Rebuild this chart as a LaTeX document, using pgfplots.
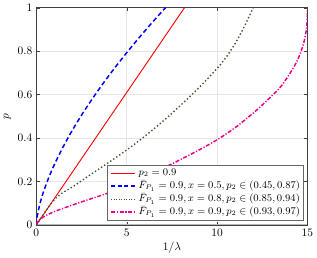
\documentclass[border=0pt]{standalone}
\usepackage{pgfplots}
\pgfplotsset{compat=1.18}
\definecolor{olivedot}{RGB}{60,85,45}
\newcommand\sRed{\textcolor{red}{\rule[0.5ex]{21pt}{0.8pt}}}
\newcommand\sBlue{\textcolor{blue}{\rule[0.45ex]{3.6pt}{1.3pt}\hspace{2.2pt}\rule[0.45ex]{3.6pt}{1.3pt}\hspace{2.2pt}\rule[0.45ex]{3.6pt}{1.3pt}\hspace{2.2pt}\rule[0.45ex]{3.6pt}{1.3pt}}}
\newcommand\dotO{\rule[0.45ex]{1.1pt}{1.1pt}\hspace{1.1pt}}
\newcommand\sOlive{\textcolor{olivedot}{\dotO\dotO\dotO\dotO\dotO\dotO\dotO\dotO\dotO\rule[0.45ex]{1.1pt}{1.1pt}}}
\newcommand\dashdotM{\rule[0.45ex]{3.5pt}{1.3pt}\hspace{1.5pt}\rule[0.45ex]{1pt}{1.3pt}\hspace{1.5pt}}
\newcommand\sMag{\textcolor{magenta}{\dashdotM\dashdotM\rule[0.45ex]{3.5pt}{1.3pt}\hspace{1.5pt}\rule[0.45ex]{1pt}{1.3pt}}}
\begin{document}
\begin{tikzpicture}
\begin{axis}[
  scale only axis,
  width=237pt, height=190pt,
  xmin=0, xmax=15, ymin=0, ymax=1,
  xtick={0,5,10,15}, ytick={0,0.2,0.4,0.6,0.8,1},
  yticklabels={0,0.2,0.4,0.6,0.8,1},
  grid=major,
  major grid style={gray!20, line width=0.4pt},
  axis line style={black!75, line width=0.5pt},
  tick style={black!75},
  major tick length=3pt,
  xlabel={$1/\lambda$}, ylabel={$p$},
  xlabel style={yshift=2pt},
  ylabel style={yshift=-1pt},
  legend cell align=left,
  legend style={at={(0.986,0.022)}, anchor=south east, draw=black!60, fill=white,
    inner sep=1pt, row sep=-1.5pt, font=\small},
  legend image code/.code={},
]
\addplot[gray!55, line width=1.4pt, forget plot] coordinates {(0,0) (15,0)};
\addplot[red, line width=0.8pt] coordinates {(0,0) (8.2,1)};
\addlegendentry{\sRed\ $p_2=0.9$}
\addplot[blue, line width=1.3pt, dash pattern=on 4pt off 2.5pt, smooth] coordinates {
(0,0) (0.05,0.0397) (0.2,0.0978) (0.4,0.1535) (0.7,0.2207) (1,0.2784) (1.5,0.3624)
(2,0.4369) (2.5,0.5051) (3,0.5686) (3.5,0.6286) (4,0.6856) (4.5,0.7401) (5,0.7926)
(5.5,0.8432) (6,0.8923) (6.5,0.9399) (7,0.9863) (7.15,1)};
\addlegendentry{\sBlue\ $\bar{F}_{P_1}=0.9, x=0.5, p_2\in(0.45,0.87)$}
\addplot[olivedot, line width=1.2pt, dotted, smooth] coordinates {
(0,0) (0.5,0.062) (1,0.117) (1.5,0.151) (2,0.175) (3,0.232) (4,0.2875) (5,0.345)
(6,0.408) (7,0.477) (8,0.552) (9,0.632) (10,0.72) (10.5,0.772) (11,0.835) (11.5,0.912) (12,1)};
\addlegendentry{\sOlive\ $\bar{F}_{P_1}=0.9, x=0.8, p_2\in(0.85,0.94)$}
\addplot[magenta, line width=1.3pt, dash pattern=on 3.5pt off 1.5pt on 1pt off 1.5pt, smooth] coordinates {
(0,0) (0.05,0.012) (0.2,0.026) (0.5,0.042) (1,0.062) (1.5,0.077) (2,0.092) (3,0.12)
(4,0.148) (5,0.182) (6,0.222) (7,0.261) (8,0.302) (9,0.345) (10,0.392) (11,0.448)
(12,0.515) (12.5,0.552) (13,0.592) (13.4,0.625) (13.65,0.65) (14.05,0.7) (14.4,0.75)
(14.65,0.8) (14.83,0.85) (14.94,0.9) (14.99,0.95) (15,1)};
\addlegendentry{\sMag\ $\bar{F}_{P_1}=0.9, x=0.9, p_2\in(0.93,0.97)$}
\end{axis}
\end{tikzpicture}
\end{document}
